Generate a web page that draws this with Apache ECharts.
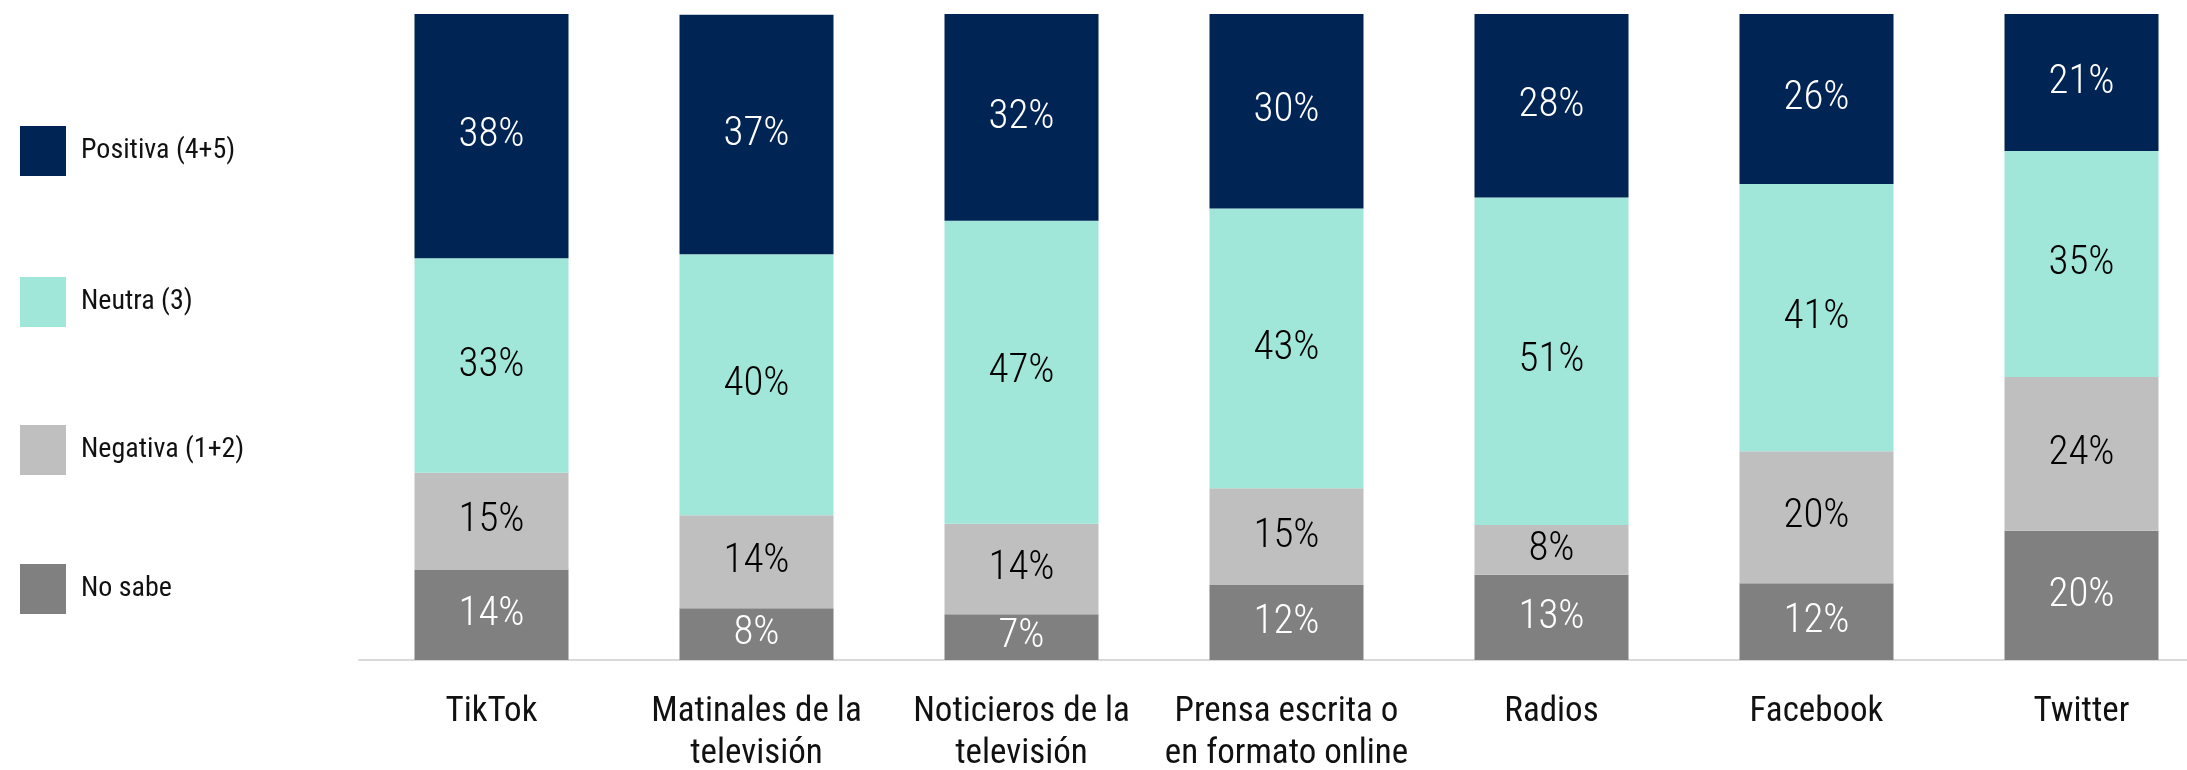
<!DOCTYPE html>
<html>
<head>
<meta charset="utf-8">
<script src="https://cdn.jsdelivr.net/npm/echarts@6/dist/echarts.min.js"></script>
<style>
html,body{margin:0;padding:0;background:#fff;}
#c{width:2187px;height:770px;}
</style>
</head>
<body>
<div id="c"></div>
<script>
var categories = ['TikTok', 'Matinales de la\ntelevisión', 'Noticieros de la\ntelevisión', 'Prensa escrita o\nen formato online', 'Radios', 'Facebook', 'Twitter'];
var seriesNames = ['Positiva (4+5)', 'Neutra (3)', 'Negativa (1+2)', 'No sabe'];
var positiva = [37.8, 37.1, 32.0, 30.1, 28.4, 26.3, 21.2];
var neutra   = [33.2, 40.4, 46.9, 43.3, 50.7, 41.4, 35.0];
var negativa = [15.0, 14.4, 14.0, 15.0, 7.7, 20.4, 23.8];
var noSabe   = [14.0, 8.0, 7.1, 11.6, 13.2, 11.9, 20.0];

var FONT = "'Roboto Condensed', 'Liberation Sans Narrow', 'Roboto', sans-serif";
var colors = {pos:'#002554', neu:'#A0E6D9', neg:'#BFBFBF', ns:'#808080'};

function mk(name, data, color, labelColor) {
  return {
    name: name, type: 'bar', stack: 'total', data: data,
    barWidth: 154,
    itemStyle: {color: color},
    label: {
      show: true, position: 'inside', color: labelColor,
      fontFamily: FONT, fontSize: 41, fontWeight: 300,
      formatter: function (p) { return Math.round(p.value) + '%'; }
    }
  };
}

function legendItem(name, top) {
  return {
    data: [name], orient: 'vertical', left: 15, top: top,
    icon: 'rect', itemWidth: 46, itemHeight: 50,
    selectedMode: false,
    textStyle: {fontFamily: FONT, fontSize: 28, color: '#111', padding: [0, 0, 0, 10]}
  };
}

var chart = echarts.init(document.getElementById('c'));
chart.setOption({
  animation: false,
  backgroundColor: '#fff',
  legend: [
    legendItem(seriesNames[0], 121),
    legendItem(seriesNames[1], 272),
    legendItem(seriesNames[2], 420),
    legendItem(seriesNames[3], 559)
  ],
  grid: {left: 359, top: 14, width: 1855, height: 646, containLabel: false, outerBoundsMode: 'none'},
  xAxis: {
    type: 'category', data: categories,
    axisLine: {lineStyle: {color: '#D9D9D9', width: 2}},
    axisTick: {show: false},
    axisLabel: {fontFamily: FONT, fontSize: 35, color: '#111', lineHeight: 42, margin: 31, interval: 0}
  },
  yAxis: {type: 'value', min: 0, max: 100, show: false, splitLine: {show: false}},
  series: [
    mk(seriesNames[3], noSabe, colors.ns, '#fff'),
    mk(seriesNames[2], negativa, colors.neg, '#000'),
    mk(seriesNames[1], neutra, colors.neu, '#000'),
    mk(seriesNames[0], positiva, colors.pos, '#fff')
  ]
});
</script>
</body>
</html>
